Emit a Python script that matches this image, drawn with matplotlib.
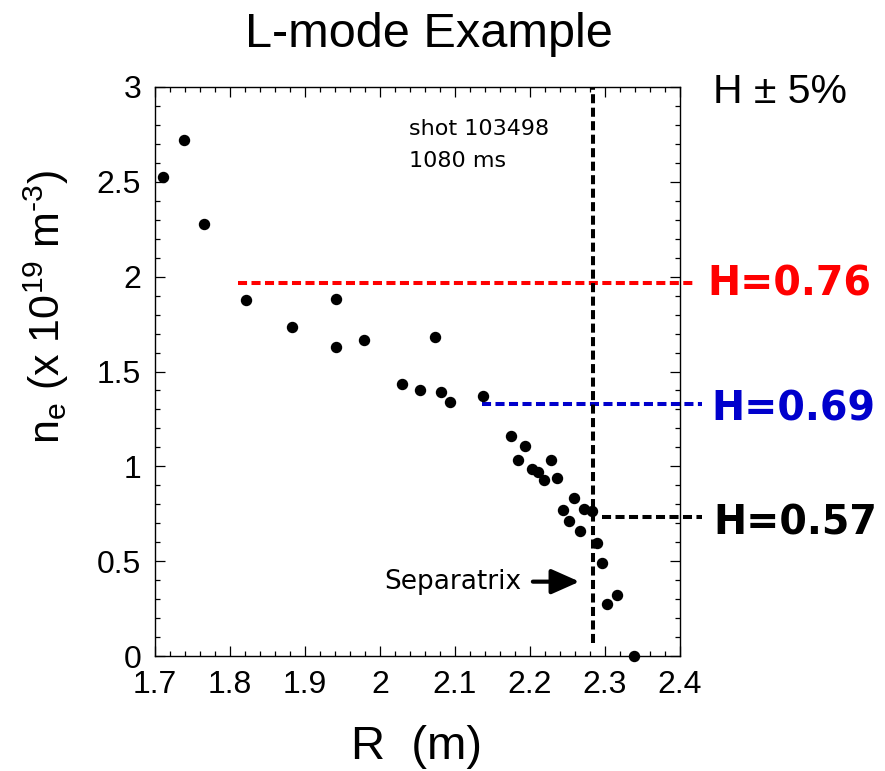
import matplotlib
matplotlib.use("Agg")
import matplotlib.pyplot as plt

# Fonts: Arial-like for most text, mathtext using the same family
plt.rcParams['font.family'] = ['Liberation Sans', 'DejaVu Sans']
plt.rcParams['mathtext.fontset'] = 'custom'
plt.rcParams['mathtext.rm'] = 'Liberation Sans'
plt.rcParams['mathtext.it'] = 'Liberation Sans:italic'

# Density profile points (R in m, ne in 1e19 m^-3)
R = [1.711, 1.739, 1.765, 1.821, 1.882, 1.941, 1.941, 1.978, 2.030, 2.053,
     2.074, 2.081, 2.093, 2.137, 2.175, 2.184, 2.193, 2.202, 2.210, 2.219,
     2.228, 2.236, 2.244, 2.252, 2.259, 2.267, 2.272, 2.282, 2.289, 2.296,
     2.303, 2.316, 2.338]
ne = [2.523, 2.720, 2.277, 1.877, 1.734, 1.880, 1.627, 1.666, 1.432, 1.400,
      1.680, 1.393, 1.339, 1.371, 1.158, 1.033, 1.109, 0.984, 0.970, 0.926,
      1.033, 0.940, 0.770, 0.712, 0.834, 0.659, 0.773, 0.763, 0.597, 0.489,
      0.274, 0.322, 0.0]

# Separatrix location
R_sep = 2.2836
sep_ylim = [0.067, 3.0]

# H levels: label, density level, start R, end R, colour
h_labels = ['H=0.76', 'H=0.69', 'H=0.57']
h_levels = [1.968, 1.328, 0.734]
h_start = [1.811, 2.136, 2.296]
h_end = [2.417, 2.429, 2.429]
h_colors = ['#ff0000', '#0000cc', '#000000']

x_ticks = [1.7, 1.8, 1.9, 2.0, 2.1, 2.2, 2.3, 2.4]
x_ticklabels = ['1.7', '1.8', '1.9', '2', '2.1', '2.2', '2.3', '2.4']
y_ticks = [0, 0.5, 1, 1.5, 2, 2.5, 3]
y_ticklabels = ['0', '0.5', '1', '1.5', '2', '2.5', '3']

fig = plt.figure(figsize=(8.85, 7.71), dpi=100)
ax = fig.add_axes([155 / 885, 1 - 656 / 771, 525 / 885, 569 / 771])

ax.set_xlim(1.7, 2.4)
ax.set_ylim(0, 3)

# dashed guide lines
dash = (2.25, 1.1)
for lvl, x0, x1, c in zip(h_levels, h_start, h_end, h_colors):
    ax.plot([x0, x1], [lvl, lvl], color=c, lw=2.9, dashes=dash, clip_on=False, zorder=2)
ax.plot([R_sep, R_sep], sep_ylim, color='k', lw=2.9, dashes=dash, clip_on=False, zorder=2)

# data points
ax.plot(R, ne, 'o', color='k', ms=7.2, clip_on=False, zorder=3)

# ticks
ax.set_xticks(x_ticks)
ax.set_xticklabels(x_ticklabels)
ax.set_yticks(y_ticks)
ax.set_yticklabels(y_ticklabels)
ax.xaxis.set_minor_locator(matplotlib.ticker.MultipleLocator(0.02))
ax.yaxis.set_minor_locator(matplotlib.ticker.MultipleLocator(0.1))
ax.tick_params(which='both', direction='in', top=True, right=True, width=0.9)
ax.tick_params(which='major', length=7.2, labelsize=23, pad=10)
ax.tick_params(which='minor', length=3.6)
for s in ax.spines.values():
    s.set_linewidth(1.0)

# axis labels
ax.set_xlabel('R  (m)', fontsize=34, va='baseline')
ax.xaxis.set_label_coords(0.499, -0.181)
ax.set_ylabel(r'n$_\mathregular{e}$ (x 10$^{\mathregular{19}}$ m$^{\text{-3}}$)',
              fontsize=31, rotation=90, rotation_mode='anchor', ha='center', va='baseline')
ax.yaxis.set_label_coords(-0.181, 0.613)

# title
fig.text(429 / 885, 1 - 46.7 / 771, 'L-mode Example', fontsize=35, ha='center', va='baseline')

# annotations
ax.text(2.0387, 2.746, 'shot 103498', fontsize=16, family='DejaVu Sans', va='baseline')
ax.text(2.0387, 2.578, '1080 ms', fontsize=16, family='DejaVu Sans', va='baseline')
ax.text(2.444, 2.915, 'H \u00b1 5%', fontsize=29.5, va='baseline', clip_on=False)

h_text_x = [2.437, 2.442, 2.444]
h_text_y = [1.903, 1.244, 0.638]
for lab, tx, ty, c in zip(h_labels, h_text_x, h_text_y, h_colors):
    ax.text(tx, ty, lab, fontsize=28.5, family='DejaVu Sans', fontweight='bold',
            color=c, va='baseline', clip_on=False)

ax.annotate('Separatrix', xy=(2.266, 0.392), xytext=(2.189, 0.392),
            fontsize=19, family='DejaVu Sans', ha='right', va='center',
            arrowprops=dict(arrowstyle='-|>,head_length=0.9,head_width=0.4',
                            color='k', lw=3, shrinkA=6, shrinkB=0))

fig.savefig('out.png', dpi=100)
